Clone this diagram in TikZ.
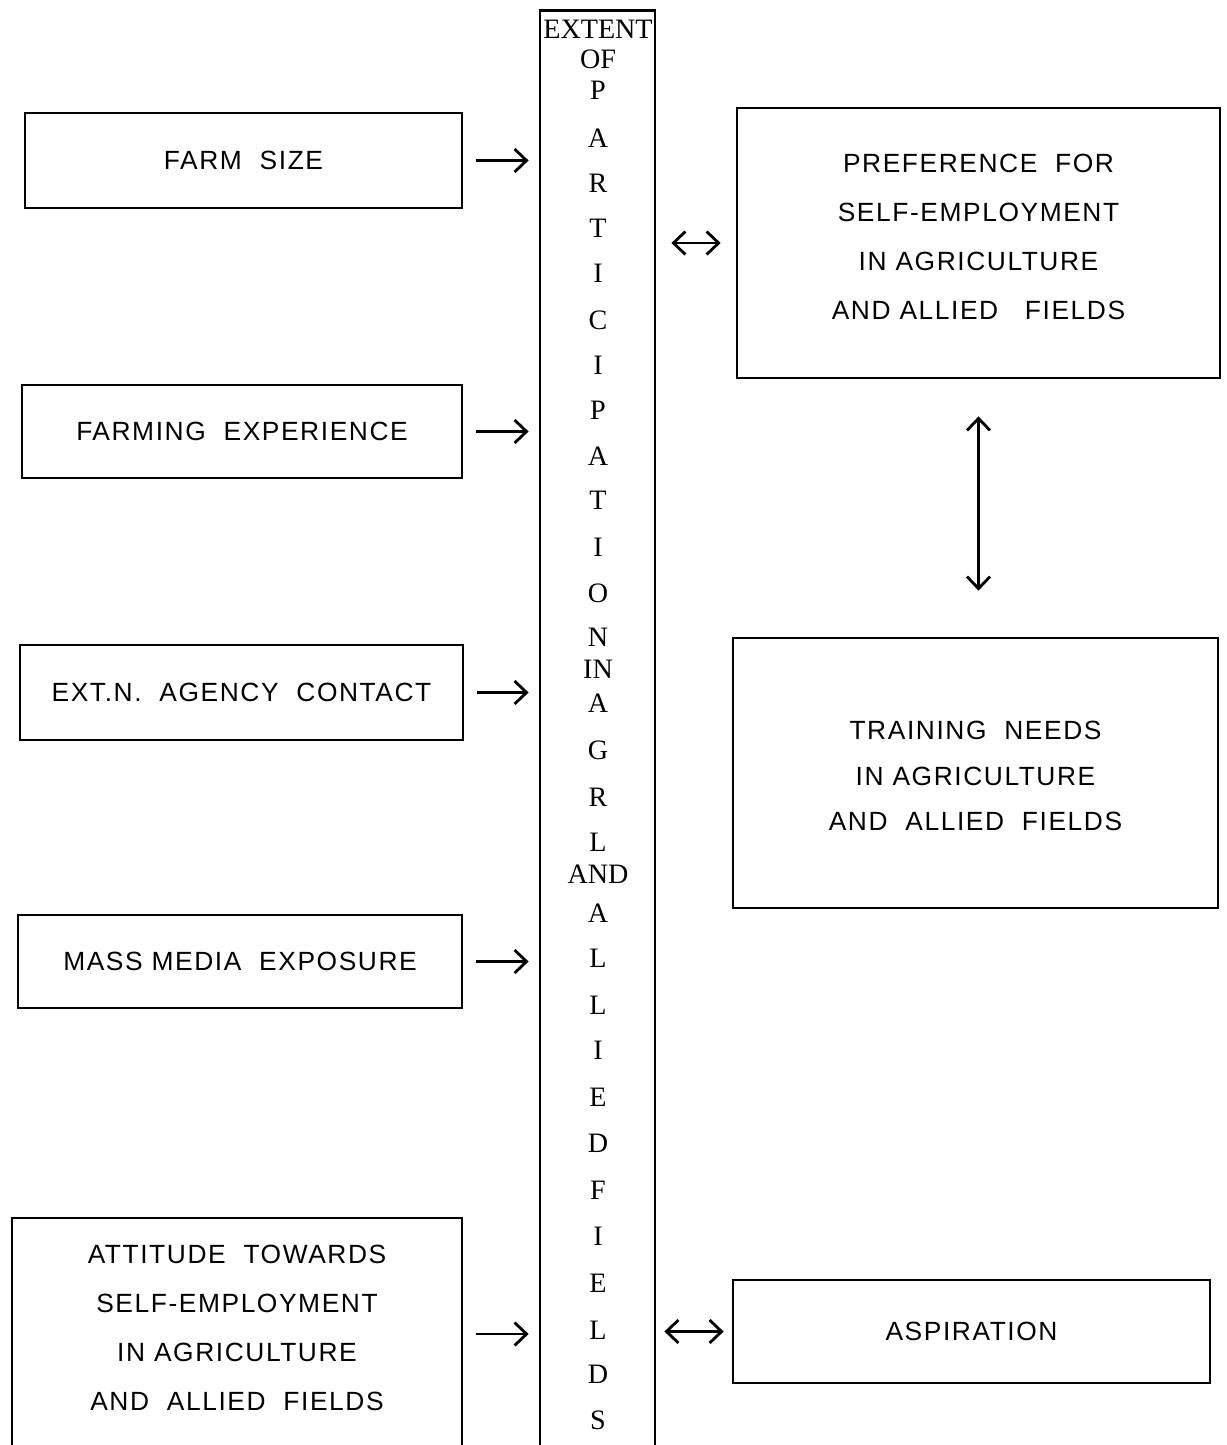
\documentclass[tikz,border=0pt]{standalone}
\usepackage{fontspec}
\setmainfont{Liberation Serif}
\newfontfamily\boxfont[LetterSpace=6]{Liberation Sans}
\usetikzlibrary{arrows.meta, positioning}

\begin{document}
\begin{tikzpicture}[x=0.02cm, y=-0.02cm, line width=1.6pt,
		>={Straight Barb[length=2.4mm, width=4.6mm, line width=1.6pt]},
		factor/.style={draw, align=center, font=\boxfont\fontsize{15}{28}\selectfont},
		letter/.style={font=\fontsize{16}{17}\selectfont, inner sep=0pt}]
		\clip (0,0) rectangle (1227,1445);

		% factors on the left
		\node[factor, minimum width=8.74cm, minimum height=1.9cm] (size) at (243.5,160.5) {FARM\ \ SIZE};
		\node[factor, minimum width=8.8cm, minimum height=1.86cm] (exp) at (242,431.5) {FARMING\ \ EXPERIENCE};
		\node[factor, minimum width=8.86cm, minimum height=1.9cm] (agency) at (241.5,692.5) {EXT.N.\ \ AGENCY\ \ CONTACT};
		\node[factor, minimum width=8.88cm, minimum height=1.86cm] (media) at (240,961.5) {MASS MEDIA\ \ EXPOSURE};
		\node[factor, minimum width=9cm, minimum height=4.64cm] (att) at (237,1334) {ATTITUDE\ \ TOWARDS\\SELF-EMPLOYMENT\\IN AGRICULTURE\\AND\ \ ALLIED\ \ FIELDS\\[-21pt]};

		% central column
		\node[draw, minimum width=2.3cm, minimum height=29cm] (ext) at (597.5,735) {};
		\foreach \ltr/\yy in {EXTENT/29, OF/59, P/90, A/138, R/183, T/228, I/273, C/320, I/365,
				P/410, A/456, T/500, I/547, O/593, N/637, IN/669, A/703, G/750, R/797, L/842,
				AND/874, A/913, L/958, L/1005, I/1050, E/1097, D/1143, F/1190, I/1236, E/1283,
				L/1330, D/1374, S/1420}
			\node[letter] at (598,\yy) {\ltr};

		% outcomes on the right
		\node[factor, minimum width=9.66cm, minimum height=5.4cm] (pref) at (978.5,243) {PREFERENCE\ \ FOR\\SELF-EMPLOYMENT\\IN AGRICULTURE\\AND ALLIED\ \ \ FIELDS\\[-21pt]};
		\node[factor, minimum width=9.7cm, minimum height=5.4cm, font=\boxfont\fontsize{15}{26}\selectfont] (train) at (975.5,773) {\\[-12pt]TRAINING\ \ NEEDS\\IN AGRICULTURE\\AND\ \ ALLIED\ \ FIELDS};
		\node[factor, minimum width=9.54cm, minimum height=2.06cm] (asp) at (971.5,1331.5) {ASPIRATION};

		% connectors
		\foreach \src in {size, exp, agency, media, att}
			\draw[->, shorten <=0.26cm, shorten >=0.2cm] (\src.east) -- (\src.east -| ext.west);
		\draw[<->, shorten <=0.3cm, shorten >=0.3cm] (pref.west -| ext.east) -- (pref.west);
		\draw[<->, shorten <=0.16cm, shorten >=0.16cm] (asp.west -| ext.east) -- (asp.west);
		\draw[<->, shorten <=0.74cm, shorten >=0.92cm] (pref.south) -- (pref.south |- train.north);
	\end{tikzpicture}
\end{document}
